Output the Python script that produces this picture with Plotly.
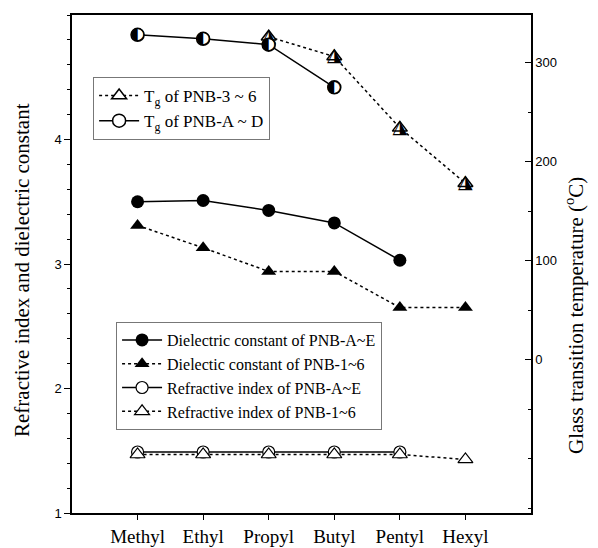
import plotly.graph_objects as go

categories = ["Methyl", "Ethyl", "Propyl", "Butyl", "Pentyl", "Hexyl"]

diel_AE = [3.50, 3.51, 3.43, 3.33, 3.03]
diel_16 = [3.31, 3.13, 2.94, 2.94, 2.65, 2.65]
refr_AE = [1.49, 1.49, 1.49, 1.49, 1.49]
refr_16 = [1.47, 1.47, 1.47, 1.47, 1.47, 1.43]
tg_36_cats = ["Propyl", "Butyl", "Pentyl", "Hexyl"]
tg_36 = [326, 306, 234, 178]
tg_AD_cats = ["Methyl", "Ethyl", "Propyl", "Butyl"]
tg_AD = [328, 324, 318, 275]

xi = {c: i for i, c in enumerate(categories)}
SERIF = "Liberation Serif"
SANS = "Liberation Sans"
BLK = "black"
MS = 13

fig = go.Figure()

# Top legend (Tg)
fig.add_trace(go.Scatter(
    x=[xi[c] for c in tg_36_cats], y=tg_36, yaxis="y2", mode="lines+markers",
    name="T<sub>g</sub> of PNB-3 ~ 6", legend="legend",
    line=dict(color=BLK, width=1.5, dash="dot"),
    marker=dict(symbol="triangle-up", size=MS, color="white", line=dict(color=BLK, width=1.5))))
fig.add_trace(go.Scatter(
    x=[xi[c] for c in tg_36_cats], y=tg_36, yaxis="y2", mode="text",
    text=["\u25ee"] * len(tg_36), textfont=dict(size=19, color=BLK, family="DejaVu Sans"),
    showlegend=False, hoverinfo="skip"))
fig.add_trace(go.Scatter(
    x=[xi[c] for c in tg_AD_cats], y=tg_AD, yaxis="y2", mode="lines+markers",
    name="T<sub>g</sub> of PNB-A ~ D", legend="legend",
    line=dict(color=BLK, width=1.5),
    marker=dict(symbol="circle", size=MS, color="white", line=dict(color=BLK, width=1.5))))
fig.add_trace(go.Scatter(
    x=[xi[c] for c in tg_AD_cats], y=tg_AD, yaxis="y2", mode="text",
    text=["\u25d0"] * len(tg_AD), textfont=dict(size=17, color=BLK, family="DejaVu Sans"),
    showlegend=False, hoverinfo="skip"))

# Bottom legend (dielectric / refractive)
fig.add_trace(go.Scatter(
    x=list(range(len(diel_AE))), y=diel_AE, mode="lines+markers",
    name="Dielectric constant of PNB-A~E", legend="legend2",
    line=dict(color=BLK, width=1.5),
    marker=dict(symbol="circle", size=MS, color=BLK)))
fig.add_trace(go.Scatter(
    x=list(range(len(diel_16))), y=diel_16, mode="lines+markers",
    name="Dielectic constant of PNB-1~6", legend="legend2",
    line=dict(color=BLK, width=1.5, dash="dot"),
    marker=dict(symbol="triangle-up", size=MS, color=BLK)))
fig.add_trace(go.Scatter(
    x=list(range(len(refr_AE))), y=refr_AE, mode="lines+markers",
    name="Refractive index of PNB-A~E", legend="legend2",
    line=dict(color=BLK, width=1.5),
    marker=dict(symbol="circle", size=MS - 1, color="white", line=dict(color=BLK, width=1.2))))
fig.add_trace(go.Scatter(
    x=list(range(len(refr_16))), y=refr_16, mode="lines+markers",
    name="Refractive index of PNB-1~6", legend="legend2",
    line=dict(color=BLK, width=1.5, dash="dot"),
    marker=dict(symbol="triangle-up", size=MS, color="white", line=dict(color=BLK, width=1.2))))

fig.update_layout(
    width=598, height=548,
    margin=dict(l=72, r=67, t=15, b=35),
    paper_bgcolor="white", plot_bgcolor="white",
    font=dict(family=SERIF, color=BLK),
    xaxis=dict(
        range=[-1, 6], tickmode="array", tickvals=list(range(len(categories))),
        ticktext=categories, tickfont=dict(family=SERIF, size=19), automargin=False,
        showline=True, linecolor=BLK, linewidth=1.5, mirror=True,
        ticks="outside", ticklen=5, tickcolor=BLK, showgrid=False, zeroline=False),
    yaxis=dict(
        range=[1, 5], tickvals=[1, 2, 3, 4], tickfont=dict(family=SANS, size=13), automargin=False,
        showline=True, linecolor=BLK, linewidth=1.5, ticks="outside", ticklen=6, tickcolor=BLK,
        minor=dict(dtick=0.2, ticks="outside", ticklen=3, tickcolor=BLK),
        showgrid=False, zeroline=False),
    yaxis2=dict(
        range=[-155, 348], overlaying="y", side="right", tickvals=[0, 100, 200, 300],
        tickfont=dict(family=SANS, size=13), automargin=False,
        showline=True, linecolor=BLK, linewidth=1.5, ticks="inside", ticklen=6, tickcolor=BLK,
        minor=dict(dtick=50, ticks="inside", ticklen=3, tickcolor=BLK),
        showgrid=False, zeroline=False),
    legend=dict(x=0.046, y=(513 - 77) / 498, xanchor="left", yanchor="top", bgcolor="white",
                bordercolor="#777", borderwidth=1, font=dict(family=SERIF, size=17),
                tracegroupgap=0, itemwidth=40),
    legend2=dict(x=0.096, y=(513 - 322) / 498, xanchor="left", yanchor="top", bgcolor="white",
                 bordercolor="#777", borderwidth=1, font=dict(family=SERIF, size=16),
                 tracegroupgap=0, itemwidth=40),
    showlegend=True,
    annotations=[
        dict(text="Refractive index and dielectric constant", textangle=-90,
             xref="paper", yref="paper", x=(22 - 72) / 459, y=(513 - 270) / 498,
             xanchor="center", yanchor="middle", showarrow=False,
             font=dict(family=SERIF, size=21, color=BLK)),
        dict(text="Glass transition temperature (<sup>o</sup>C)", textangle=-90,
             xref="paper", yref="paper", x=(574 - 72) / 459, y=(513 - 316) / 498,
             xanchor="center", yanchor="middle", showarrow=False,
             font=dict(family=SERIF, size=21, color=BLK)),
    ],
)

fig.write_html("out.html")
